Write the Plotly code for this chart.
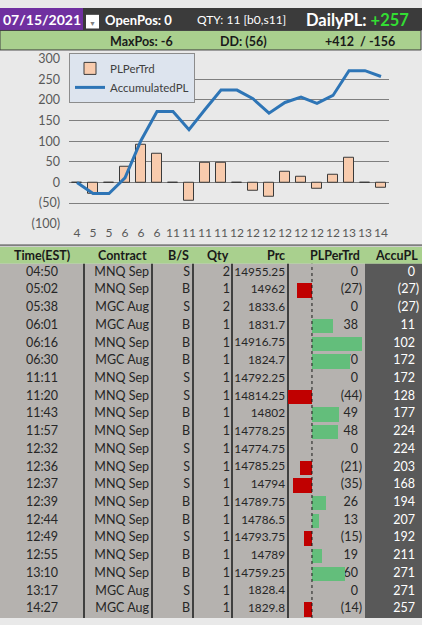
import plotly.graph_objects as go

W, H = 422, 625

# trade data
hours = ["4", "5", "5", "6", "6", "6", "11", "11", "11", "11",
         "12", "12", "12", "12", "12", "12", "12", "13", "13", "14"]
times = ["04:50", "05:02", "05:38", "06:01", "06:16", "06:30", "11:11", "11:20", "11:43", "11:57",
         "12:32", "12:36", "12:37", "12:39", "12:44", "12:49", "12:55", "13:10", "13:17", "14:27"]
contracts = ["MNQ Sep", "MNQ Sep", "MGC Aug", "MGC Aug", "MNQ Sep", "MGC Aug", "MNQ Sep", "MNQ Sep",
             "MNQ Sep", "MNQ Sep", "MNQ Sep", "MNQ Sep", "MNQ Sep", "MNQ Sep", "MNQ Sep", "MNQ Sep",
             "MNQ Sep", "MNQ Sep", "MGC Aug", "MGC Aug"]
sides = ["S", "B", "S", "B", "B", "B", "S", "S", "B", "B",
         "S", "S", "S", "B", "B", "S", "B", "B", "S", "B"]
qtys = [2, 1, 2, 1, 1, 1, 1, 1, 1, 1, 1, 1, 1, 1, 1, 1, 1, 1, 1, 1]
prices = [14955.25, 14962, 1833.6, 1831.7, 14916.75, 1824.7, 14792.25, 14814.25, 14802, 14778.25,
          14774.75, 14785.25, 14794, 14789.75, 14786.5, 14793.75, 14789, 14759.25, 1828.4, 1829.8]
pl_per_trd = [0, -27, 0, 38, 91, 70, 0, -44, 49, 48, 0, -21, -35, 26, 13, -15, 19, 60, 0, -14]
accu_pl = [0, -27, -27, 11, 102, 172, 172, 128, 177, 224, 224, 203, 168, 194, 207, 192, 211, 271, 271, 257]

y_ticks = [-100, -50, 0, 50, 100, 150, 200, 250, 300]

FONT = "Lato"
TS = 12.5  # table font size


def acct(v):
    return f"({abs(v)})" if v < 0 else f"{v}"


def fmt_price(p):
    return ("%f" % p).rstrip("0").rstrip(".")


def px(x):
    return x / W


def py(y):
    return 1 - y / H


idx = list(range(len(hours)))
fig = go.Figure()

# chart
fig.add_trace(go.Bar(
    x=idx, y=pl_per_trd, name="PLPerTrd", width=0.66,
    marker=dict(color="#f8cbad", line=dict(color="#3a3a3a", width=1)),
))
fig.add_trace(go.Scatter(
    x=idx, y=accu_pl, name="AccumulatedPL", mode="lines",
    line=dict(color="#2e75b6", width=3),
))

# table text
rows = idx
txt = dict(family=FONT, size=TS, color="#262626")


def col_text(xs, texts, pos, font=txt):
    fig.add_trace(go.Scatter(
        x=xs, y=rows, text=texts, mode="text", textposition=pos,
        textfont=font, xaxis="x2", yaxis="y2", showlegend=False, hoverinfo="skip",
    ))


col_text([42] * 20, times, "middle center")
col_text([149] * 20, contracts, "middle left")
col_text([190] * 20, sides, "middle left")
col_text([230] * 20, [str(q) for q in qtys], "middle left")
col_text([285] * 20, [fmt_price(p) for p in prices], "middle left",
         dict(family=FONT, size=11.8, color="#262626"))
col_text([358 if v >= 0 else 362 for v in pl_per_trd], [acct(v) for v in pl_per_trd], "middle left")
col_text([415 if v >= 0 else 419 for v in accu_pl], [acct(v) for v in accu_pl], "middle left",
         dict(family=FONT, size=TS, color="white"))

# data bars
fig.add_trace(go.Bar(
    x=pl_per_trd, y=rows, orientation="h", width=0.8,
    marker=dict(color=["#63be7b" if v >= 0 else "#c00000" for v in pl_per_trd], line=dict(width=0)),
    xaxis="x3", yaxis="y2", showlegend=False, hoverinfo="skip",
))

shapes = []


def rect(x0, y0, x1, y1, color, line=None):
    shapes.append(dict(type="rect", xref="paper", yref="paper", x0=px(x0), x1=px(x1),
                       y0=py(y1), y1=py(y0), fillcolor=color, layer="below",
                       line=line or dict(width=0)))


rect(0, 0, 422, 23, "#3b3b3b")
rect(0, 0, 83, 23, "#7030a0")
rect(86, 7, 99, 21, "#ffffff")
rect(0, 23, 421, 43, "#a9d08e", dict(color="#404040", width=1))
rect(0, 242, 422, 244, "#7f7f7f")
rect(0, 245, 422, 262, "#a9d08e")
rect(0, 262, 365, 625, "#b5b2af")
rect(365, 262, 422, 625, "#595959")
for bx in [84, 152, 193, 232, 288]:
    shapes.append(dict(type="line", xref="paper", yref="paper", x0=px(bx), x1=px(bx),
                       y0=0, y1=py(262), line=dict(color="#1a1a1a", width=1.5), layer="below"))
shapes.append(dict(type="line", xref="x3", yref="paper", x0=0, x1=0, y0=0, y1=py(262),
                   line=dict(color="#1a1a1a", width=1, dash="dot")))

ann = []


def label(x, y, text, anchor="left", size=13, color="#1a1a1a"):
    ann.append(dict(x=px(x), y=py(y), xref="paper", yref="paper", text=text, showarrow=False,
                    xanchor=anchor, yanchor="middle", font=dict(family=FONT, size=size, color=color)))


label(42, 12, "<b>07/15/2021</b>", "center", 14, "white")
label(92, 15, "▼", "center", 7, "#7f7f7f")
label(103, 12, "<b>OpenPos: 0</b>", "left", 13, "white")
label(195, 12, "QTY: 11 [b0,s11]", "left", 12, "white")
label(304, 12, "<b>DailyPL: <span style='color:#33dd33'>+257</span></b>", "left", 16.5, "white")
label(108, 34, "<b>MaxPos: -6</b>", "left", 12.5)
label(218, 34, "<b>DD: (56)</b>", "left", 12.5)
label(323, 34, "<b>+412  / -156</b>", "left", 12.5)

label(42, 254, "<b>Time(EST)</b>", "center", TS)
label(149, 254, "<b>Contract</b>", "right", TS)
label(191, 254, "<b>B/S</b>", "right", TS)
label(231, 254, "<b>Qty</b>", "right", TS)
label(287, 254, "<b>Prc</b>", "right", TS)
label(362, 254, "<b>PLPerTrd</b>", "right", TS)
label(420, 254, "<b>AccuPL</b>", "right", TS)

fig.update_layout(
    width=W, height=H,
    margin=dict(l=0, r=0, t=0, b=0),
    paper_bgcolor="#e9e9e9",
    plot_bgcolor="rgba(0,0,0,0)",
    font=dict(family=FONT, size=12, color="#595959"),
    bargap=0,
    xaxis=dict(
        domain=[px(69), px(389)], range=[-0.5, 19.5],
        tickvals=idx, ticktext=hours, showgrid=False, zeroline=False,
        tickfont=dict(size=12, color="#595959"), ticks="", anchor="y",
    ),
    yaxis=dict(
        domain=[py(221), py(52)], range=[-100, 300],
        tickvals=y_ticks, ticktext=[acct(v) for v in y_ticks],
        showgrid=True, gridcolor="#7f7f7f", gridwidth=1,
        zeroline=True, zerolinecolor="#7f7f7f", zerolinewidth=1,
        tickfont=dict(size=12.5, color="#595959"), ticklabelstandoff=8,
    ),
    xaxis2=dict(domain=[0, 1], range=[0, W], visible=False, anchor="y2"),
    yaxis2=dict(domain=[0, py(262)], range=[19.5, -0.5], visible=False, anchor="x2"),
    xaxis3=dict(domain=[px(288), px(365)], range=[-43.6, 96.4], visible=False, anchor="y2"),
    legend=dict(
        x=px(69), y=py(46), xanchor="left", yanchor="top",
        bgcolor="#dde4ee", bordercolor="#8c8c8c", borderwidth=1,
        font=dict(family=FONT, size=11.5, color="#404040"),
        tracegroupgap=0, itemwidth=30,
    ),
    shapes=shapes,
    annotations=ann,
    showlegend=True,
)

fig.write_html("out.html", config={"displayModeBar": False},
               post_script="document.body.style.margin='0';")
